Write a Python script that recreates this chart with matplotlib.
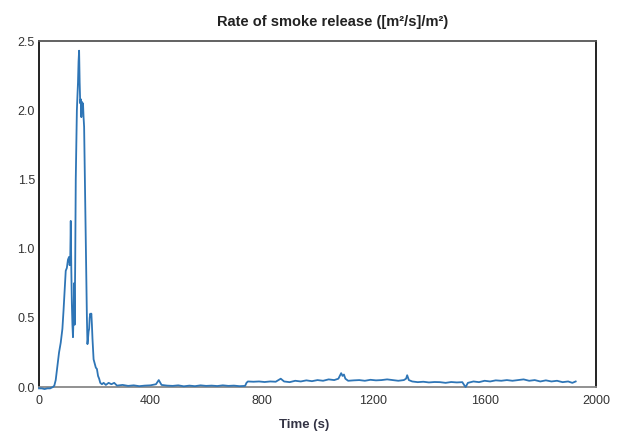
import matplotlib
matplotlib.use("Agg")
import matplotlib.pyplot as plt

plt.rcParams['font.family'] = ['Liberation Sans', 'DejaVu Sans']

title = "Rate of smoke release ([m²/s]/m²)"
xlabel = "Time (s)"
xticks = [0, 400, 800, 1200, 1600, 2000]
yticks = [0.0, 0.5, 1.0, 1.5, 2.0, 2.5]

# ignition and main peak
peak_time = [0, 10, 20, 30, 40, 50, 55, 60, 66, 72,
             78, 84, 88, 92, 96, 100, 104, 108, 110, 112,
             114, 116, 118, 120, 122, 124, 126, 128, 130, 132,
             134, 136, 138, 140, 142, 144, 146, 148, 150, 152,
             154, 156, 158, 160, 162, 164, 166, 168, 170, 172,
             174, 176, 178, 180, 182, 184, 186, 188, 190, 192,
             194, 196, 200, 204, 208, 212, 216, 220, 226, 232,
             240, 250, 260]
peak_rsr = [-0.01, -0.01, -0.015, -0.01, -0.01, 0.0, 0.01, 0.05, 0.15, 0.25,
            0.32, 0.42, 0.55, 0.7, 0.84, 0.86, 0.92, 0.94, 0.88, 0.9,
            1.2, 0.85, 0.6, 0.45, 0.36, 0.5, 0.75, 0.45, 0.9, 1.5,
            1.75, 2.0, 2.1, 2.2, 2.35, 2.43, 2.2, 2.05, 2.08, 1.95,
            2.06, 2.02, 2.05, 1.95, 1.88, 1.6, 1.3, 1.08, 0.8, 0.5,
            0.31, 0.35, 0.4, 0.42, 0.5, 0.53, 0.52, 0.53, 0.45, 0.35,
            0.28, 0.2, 0.17, 0.14, 0.13, 0.08, 0.06, 0.03, 0.02, 0.03,
            0.015, 0.03, 0.02]

# low tail
tail_time = [270, 280, 300, 320, 340, 360, 380, 400, 420, 430,
             440, 460, 480, 500, 520, 540, 560, 580, 600, 620,
             640, 660, 680, 700, 720, 740, 745, 750]
tail_rsr = [0.03, 0.01, 0.015, 0.008, 0.012, 0.006, 0.01, 0.012, 0.02, 0.05,
            0.015, 0.01, 0.008, 0.012, 0.005, 0.01, 0.006, 0.012, 0.008, 0.01,
            0.007, 0.012, 0.008, 0.01, 0.006, 0.008, 0.03, 0.04]

# late plateau
late_time = [770, 790, 810, 830, 850, 868, 880, 900, 920, 940,
             960, 980, 1000, 1020, 1040, 1060, 1075, 1085, 1090, 1095,
             1100, 1110, 1130, 1150, 1170, 1190, 1210, 1230, 1250, 1270,
             1290, 1310, 1318, 1322, 1328, 1340, 1360, 1380, 1400, 1420,
             1440, 1460, 1480, 1500, 1520, 1528, 1532, 1540, 1560, 1580,
             1600, 1620, 1640, 1660, 1680, 1700, 1720, 1740, 1760, 1780,
             1800, 1820, 1840, 1860, 1880, 1900, 1915, 1927]
late_rsr = [0.038, 0.04, 0.036, 0.04, 0.038, 0.06, 0.04, 0.035, 0.045, 0.04,
            0.048, 0.042, 0.05, 0.045, 0.055, 0.05, 0.06, 0.1, 0.08, 0.09,
            0.06, 0.045, 0.048, 0.05, 0.045, 0.052, 0.048, 0.05, 0.055, 0.05,
            0.045, 0.05, 0.06, 0.085, 0.05, 0.04, 0.035, 0.038, 0.033, 0.036,
            0.035, 0.03, 0.036, 0.033, 0.035, 0.01, 0.0, 0.03, 0.04, 0.035,
            0.045, 0.04, 0.048, 0.045, 0.05, 0.045, 0.05, 0.055, 0.045, 0.05,
            0.04, 0.048, 0.04, 0.045, 0.035, 0.04, 0.03, 0.04]

time = peak_time + tail_time + late_time
rsr = peak_rsr + tail_rsr + late_rsr

W, H = 621, 432
fig = plt.figure(figsize=(W/100, H/100), dpi=100)
ax = fig.add_axes([39/W, 1-387/H, 557/W, 346/H])
ax.plot(time, rsr, color='#2e75b6', linewidth=1.3, clip_on=False, zorder=3)
ax.set_xlim(0, 2000)
ax.set_ylim(0, 2.5)
ax.set_xticks(xticks)
ax.set_xticklabels([str(x) for x in xticks])
ax.set_yticks(yticks)
ax.set_yticklabels([f"{y:.1f}" for y in yticks])
ax.tick_params(length=0, labelsize=9, colors='#333333')
ax.tick_params(axis='x', pad=6)
ax.tick_params(axis='y', pad=3)
for s in ['left', 'right']:
    ax.spines[s].set_color('#111111')
    ax.spines[s].set_linewidth(1.3)
ax.spines['top'].set_color('#555555')
ax.spines['top'].set_linewidth(1.3)
ax.spines['bottom'].set_color('#888888')
ax.spines['bottom'].set_linewidth(1.3)
fig.text(333/W, 1-26/H, title, ha='center', va='baseline', fontsize=10.5,
         fontweight='bold', color='#222222')
fig.text(304/W, 1-428/H, xlabel, ha='center', va='baseline', fontsize=9.5,
         fontweight='bold', color='#333344')
fig.savefig('out.png', dpi=100)
